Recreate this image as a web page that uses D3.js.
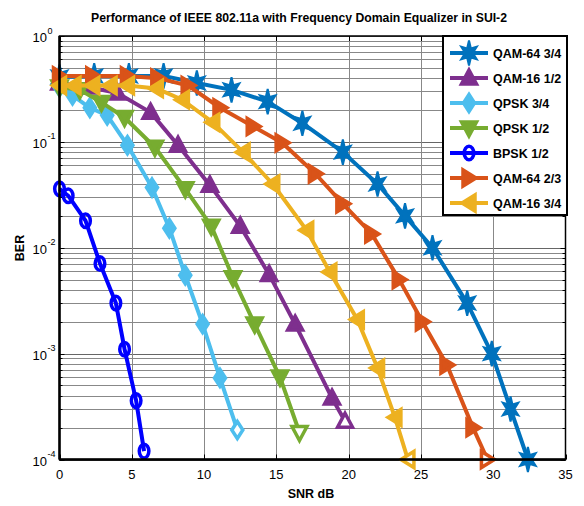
<!DOCTYPE html>
<html>
<head>
<meta charset="utf-8">
<script src="https://cdn.jsdelivr.net/npm/d3@7"></script>
<style>
  html, body { margin: 0; padding: 0; background: #fff; }
  svg { display: block; font-family: "Liberation Sans", Arial, Helvetica, sans-serif; }
</style>
</head>
<body>
<svg id="chart" width="584" height="506"></svg>
<script>
// BER vs SNR for each modulation / coding rate
const snrQam64_34 = [0, 2.4, 4.8, 7.2, 9.5, 11.9, 14.4, 16.8, 19.6, 22.0, 23.9, 25.8, 28.2, 29.9, 31.2, 32.4];
const berQam64_34 = [0.41, 0.42, 0.42, 0.42, 0.36, 0.31, 0.24, 0.15, 0.08, 0.04, 0.02, 0.01, 0.003, 0.001, 0.0003, 0.0001];

const snrQam16_12 = [0, 2.0, 4.0, 6.3, 8.2, 10.4, 12.5, 14.5, 16.3, 18.85, 19.75];
const berQam16_12 = [0.36, 0.33, 0.29, 0.19, 0.093, 0.039, 0.016, 0.0056, 0.0019, 0.00038, 0.00023];

const snrQpsk_34 = [0, 0.9, 2.1, 3.3, 4.7, 6.4, 7.6, 8.7, 9.9, 11.1, 12.3];
const berQpsk_34 = [0.33, 0.275, 0.21, 0.178, 0.093, 0.037, 0.0153, 0.0055, 0.0019, 0.00059, 0.00019];

const snrQpsk_12 = [0, 1.4, 2.9, 4.5, 6.6, 8.7, 10.5, 12.0, 13.5, 15.25, 16.6];
const berQpsk_12 = [0.33, 0.31, 0.236, 0.17, 0.089, 0.036, 0.016, 0.0052, 0.0019, 0.0006, 0.00018];

const snrBpsk_12 = [0, 0.6, 1.8, 2.8, 3.9, 4.5, 5.3, 5.85];
const berBpsk_12 = [0.036, 0.031, 0.018, 0.0071, 0.003, 0.0011, 0.00036, 0.00012];

const snrQam64_23 = [0, 2.3, 4.7, 6.8, 8.9, 11.1, 13.4, 15.4, 17.7, 19.6, 21.6, 23.5, 25.1, 26.8, 28.6, 29.6];
const berQam64_23 = [0.42, 0.42, 0.42, 0.40, 0.34, 0.21, 0.14, 0.098, 0.05, 0.026, 0.0135, 0.005, 0.002, 0.00078, 0.0002, 0.0001];

const snrQam16_34 = [0, 1.0, 2.3, 3.5, 4.7, 6.7, 8.5, 10.6, 12.7, 14.75, 17.1, 18.7, 20.6, 22.0, 23.2, 24.1];
const berQam16_34 = [0.34, 0.34, 0.34, 0.34, 0.34, 0.32, 0.25, 0.153, 0.08, 0.04, 0.0146, 0.0059, 0.0021, 0.00073, 0.00025, 0.0001];

const seriesNames = ["QAM-64 3/4", "QAM-16 1/2", "QPSK 3/4", "QPSK 1/2", "BPSK 1/2", "QAM-64 2/3", "QAM-16 3/4"];
const xTicks = [0, 5, 10, 15, 20, 25, 30, 35];
const yExponents = [0, -1, -2, -3, -4];

const titleText = "Performance of IEEE 802.11a with Frequency Domain Equalizer in SUI-2";
const xLabel = "SNR dB";
const yLabel = "BER";

// Styling per series
const styles = [
  { color: "#0072BD", marker: "star" },
  { color: "#7E2F8E", marker: "up" },
  { color: "#4DBEEE", marker: "diamond" },
  { color: "#77AC30", marker: "down" },
  { color: "#0000FF", marker: "circle" },
  { color: "#D95319", marker: "right" },
  { color: "#EDB120", marker: "left" }
];

const seriesX = [snrQam64_34, snrQam16_12, snrQpsk_34, snrQpsk_12, snrBpsk_12, snrQam64_23, snrQam16_34];
const seriesY = [berQam64_34, berQam16_12, berQpsk_34, berQpsk_12, berBpsk_12, berQam64_23, berQam16_34];
const series = seriesNames.map((name, i) => ({
  name, ...styles[i],
  points: seriesX[i].map((x, j) => ({ x, y: seriesY[i][j] }))
}));

const svg = d3.select("#chart");
const L = 59.5, R = 565.5, T = 36, B = 459.5;

const x = d3.scaleLinear().domain([0, 35]).range([L, R]);
const y = d3.scaleLog().domain([1e-4, 1]).range([B, T]);

svg.append("rect").attr("width", 584).attr("height", 506).attr("fill", "#fff");

// Grid
const grid = svg.append("g");
const minorVals = [];
for (let e = -4; e < 0; e++) for (let k = 1; k <= 9; k++) minorVals.push(k * Math.pow(10, e));
minorVals.push(1);
const isDecade = v => Math.abs(Math.log10(v) - Math.round(Math.log10(v))) < 1e-9;
grid.selectAll("line.hy").data(minorVals).join("line")
  .attr("x1", L).attr("x2", R)
  .attr("y1", d => Math.round(y(d)) + 0.5).attr("y2", d => Math.round(y(d)) + 0.5)
  .attr("stroke", d => isDecade(d) ? "#666" : "#888")
  .attr("stroke-width", 1);
grid.selectAll("line.vx").data(xTicks.slice(1, -1)).join("line")
  .attr("y1", T).attr("y2", B)
  .attr("x1", d => Math.round(x(d)) + 0.5).attr("x2", d => Math.round(x(d)) + 0.5)
  .attr("stroke", "#888").attr("stroke-width", 1);

// Ticks (inside, on all four sides)
const ticks = svg.append("g").attr("stroke", "#000").attr("stroke-width", 1);
xTicks.forEach(v => {
  const px = Math.round(x(v)) + 0.5;
  ticks.append("line").attr("x1", px).attr("x2", px).attr("y1", B).attr("y2", B - 5);
  ticks.append("line").attr("x1", px).attr("x2", px).attr("y1", T).attr("y2", T + 5);
});
minorVals.forEach(v => {
  const py = Math.round(y(v)) + 0.5;
  const len = isDecade(v) ? 5 : 3;
  ticks.append("line").attr("x1", L).attr("x2", L + len).attr("y1", py).attr("y2", py);
  ticks.append("line").attr("x1", R).attr("x2", R - len).attr("y1", py).attr("y2", py);
});

// Markers (drawn slightly taller than wide)
function markerPath(type) {
  const p = d3.path();
  if (type === "up") { p.moveTo(0, -8); p.lineTo(7.5, 6); p.lineTo(-7.5, 6); p.closePath(); }
  else if (type === "down") { p.moveTo(0, 8); p.lineTo(7.5, -6); p.lineTo(-7.5, -6); p.closePath(); }
  else if (type === "right") { p.moveTo(7, 0); p.lineTo(-6, -8); p.lineTo(-6, 8); p.closePath(); }
  else if (type === "left") { p.moveTo(-7, 0); p.lineTo(6, -8); p.lineTo(6, 8); p.closePath(); }
  else if (type === "diamond") { p.moveTo(0, -8.5); p.lineTo(5.5, 0); p.lineTo(0, 8.5); p.lineTo(-5.5, 0); p.closePath(); }
  else if (type === "star") {
    for (let i = 0; i < 12; i++) {
      const a = -Math.PI / 2 + i * Math.PI / 6;
      const r = i % 2 === 0 ? 9 : 3.8;
      const px = r * Math.cos(a), py = r * Math.sin(a) * 1.4;
      if (i === 0) p.moveTo(px, py); else p.lineTo(px, py);
    }
    p.closePath();
  }
  return p.toString();
}
// Thick-edged markers: interior points read as solid, the trailing point stays open
function drawMarker(g, type, color, cx, cy, open) {
  if (type === "circle") {
    g.append("ellipse").attr("cx", cx).attr("cy", cy).attr("rx", 4.8).attr("ry", 6.8)
      .attr("fill", "none").attr("stroke", color).attr("stroke-width", 3.5);
  } else if (type === "star") {
    g.append("path").attr("d", markerPath(type)).attr("transform", `translate(${cx},${cy})`)
      .attr("fill", color).attr("stroke", color).attr("stroke-width", 2).attr("stroke-linejoin", "miter");
  } else {
    g.append("path").attr("d", markerPath(type)).attr("transform", `translate(${cx},${cy})`)
      .attr("fill", open ? "#fff" : color).attr("stroke", color).attr("stroke-width", 3.5)
      .attr("stroke-linejoin", "miter");
  }
}

// Series lines and markers
const line = d3.line().x(d => x(d.x)).y(d => y(d.y));
const plot = svg.append("g");
series.forEach(s => {
  const g = plot.append("g");
  g.append("path").datum(s.points).attr("d", line)
    .attr("fill", "none").attr("stroke", s.color).attr("stroke-width", 4)
    .attr("stroke-linejoin", "round");
  s.points.forEach((d, j) => drawMarker(g, s.marker, s.color, x(d.x), y(d.y), j === s.points.length - 1));
});

// Axes box
svg.append("rect").attr("x", L).attr("y", T).attr("width", R - L).attr("height", B - T)
  .attr("fill", "none").attr("stroke", "#000").attr("stroke-width", 1.5);
svg.append("line").attr("x1", L).attr("x2", R).attr("y1", B).attr("y2", B)
  .attr("stroke", "#000").attr("stroke-width", 2.5);
svg.append("line").attr("x1", L).attr("x2", L).attr("y1", T).attr("y2", B)
  .attr("stroke", "#000").attr("stroke-width", 2.5);

// Tick labels
const labels = svg.append("g").attr("fill", "#000");
xTicks.forEach(v => {
  labels.append("text").attr("x", x(v)).attr("y", 479).attr("text-anchor", "middle")
    .attr("font-size", 13).text(v);
});
yExponents.forEach(e => {
  const py = y(Math.pow(10, e));
  labels.append("text").attr("x", 47).attr("y", py + 6).attr("text-anchor", "end")
    .attr("font-size", 13).text("10");
  labels.append("text").attr("x", 47.5).attr("y", py - 2.5).attr("text-anchor", "start")
    .attr("font-size", 9).text(e);
});

// Title and axis labels
svg.append("text").attr("x", 299).attr("y", 22).attr("text-anchor", "middle")
  .attr("font-size", 13).attr("font-weight", "bold")
  .attr("textLength", 416).attr("lengthAdjust", "spacingAndGlyphs").text(titleText);
svg.append("text").attr("x", 311).attr("y", 498).attr("text-anchor", "middle")
  .attr("font-size", 12.5).attr("font-weight", "bold").text(xLabel);
svg.append("text").attr("transform", "translate(24,248) rotate(-90)").attr("text-anchor", "middle")
  .attr("font-size", 12.5).attr("font-weight", "bold").text(yLabel);

// Legend
const lg = svg.append("g");
lg.append("rect").attr("x", 443).attr("y", 36).attr("width", 124).attr("height", 179)
  .attr("fill", "#fff").attr("stroke", "#000").attr("stroke-width", 2);
series.forEach((s, i) => {
  const cy = 53 + i * 25;
  lg.append("line").attr("x1", 450).attr("x2", 488).attr("y1", cy).attr("y2", cy)
    .attr("stroke", s.color).attr("stroke-width", 4);
  drawMarker(lg, s.marker, s.color, 469, cy, false);
  lg.append("text").attr("x", 493).attr("y", cy + 5).attr("font-size", 12.5)
    .attr("font-weight", "bold").text(s.name);
});
</script>
</body>
</html>
